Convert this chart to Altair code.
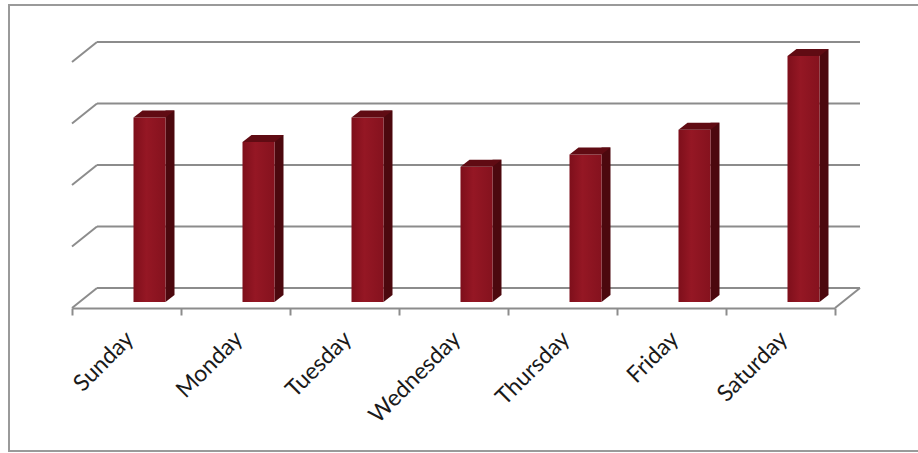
import altair as alt
import pandas as pd

days = ["Sunday", "Monday", "Tuesday", "Wednesday", "Thursday", "Friday", "Saturday"]
values = [3.0, 2.6, 3.0, 2.2, 2.4, 2.8, 4.0]
grid_values = [0, 1, 2, 3, 4]

df = pd.DataFrame({"day": days, "value": values})
grid_df = pd.DataFrame({"g": grid_values})

GRID = "#8c8c8c"
SIDE = "#4c080e"
TOP = "#600b13"
FRONT = alt.LinearGradient(
    gradient="linear", x1=0, x2=1, y1=0, y2=0,
    stops=[alt.GradientStop(offset=0, color="#7e0f1b"),
           alt.GradientStop(offset=0.4, color="#951724"),
           alt.GradientStop(offset=1, color="#85121e")],
)

xenc = alt.X("day:N", sort=days,
             scale=alt.Scale(paddingInner=0, paddingOuter=0),
             axis=alt.Axis(title=None, labelAngle=-45, labelAlign="right",
                           labelBaseline="middle", labelFont="Lato",
                           labelFontSize=23, labelColor="#1a1a1a",
                           labelPadding=20, labelOffset=3,
                           domainColor=GRID, domainWidth=2,
                           tickColor=GRID, tickWidth=2, tickSize=7,
                           tickBand="extent", grid=False))
yscale = alt.Scale(domain=[0, 4], nice=False, zero=True)

frame = alt.Chart(alt.Data(values=[{}])).mark_rect(
    fill=None, stroke="#9a9a9a", strokeWidth=2
).encode(x=alt.value(-63), x2=alt.value(900), y=alt.value(-57), y2=alt.value(389))

gridlines = alt.Chart(grid_df).mark_rule(
    color=GRID, strokeWidth=2, yOffset=-20, y2Offset=-20
).encode(
    y=alt.Y("g:Q", scale=yscale, axis=None),
    x=alt.value(25), x2=alt.value(788),
)

diagonals = alt.Chart(grid_df).mark_rule(
    color=GRID, strokeWidth=2, y2Offset=-20
).encode(
    y=alt.Y("g:Q", scale=yscale, axis=None),
    y2=alt.Y2("g:Q"),
    x=alt.value(0), x2=alt.value(25),
)

floor_right = alt.Chart(alt.Data(values=[{}])).mark_rule(
    color=GRID, strokeWidth=2, y2Offset=-20
).encode(
    y=alt.Y(datum=0, scale=yscale, axis=None),
    y2=alt.Y2(datum=0),
    x=alt.value(763), x2=alt.value(788),
)

base = alt.Chart(df)

side = base.mark_bar(color=SIDE, width=9, xOffset=43.5, yOffset=-13, y2Offset=-13).encode(
    x=xenc,
    y=alt.Y("value:Q", scale=yscale, axis=None),
    y2=alt.Y2(datum=0),
)

bottom_tri = base.mark_point(
    shape="M 0 0 L 0 -7 L 9 -7 Z", size=4, filled=True, opacity=1,
    color=SIDE, strokeWidth=0, xOffset=39, yOffset=-6
).encode(
    x=xenc,
    y=alt.Y(datum=0, scale=yscale, axis=None),
)

front = base.mark_bar(color=FRONT, width=32, xOffset=23, yOffset=-6, y2Offset=-6).encode(
    x=xenc,
    y=alt.Y("value:Q", scale=yscale, axis=None),
    y2=alt.Y2(datum=0),
)

top = base.mark_point(
    shape="M -16 0 L 16 0 L 25 -7 L -7 -7 Z", size=4, filled=True, opacity=1,
    color=TOP, strokeWidth=0, xOffset=23, yOffset=-6
).encode(
    x=xenc,
    y=alt.Y("value:Q", scale=yscale, axis=None),
)

chart = alt.layer(
    frame, gridlines, diagonals, floor_right, side, bottom_tri, front, top
).properties(
    width=763, height=246,
    autosize=alt.AutoSizeParams(type="none"),
    padding={"left": 72, "top": 62, "right": 83, "bottom": 145},
    background="white",
).configure_view(stroke=None)

chart.save("out.html", embed_options={"renderer": "svg", "actions": False})
